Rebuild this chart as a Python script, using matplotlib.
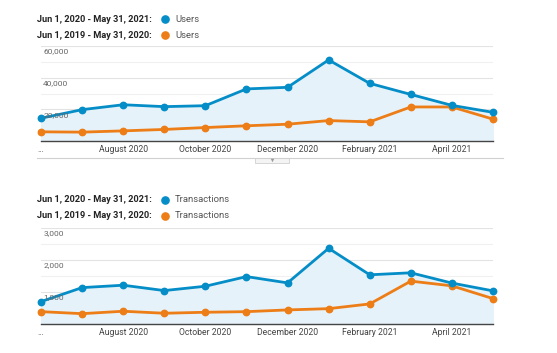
import matplotlib
matplotlib.use("Agg")
import matplotlib.pyplot as plt
from matplotlib.transforms import blended_transform_factory

plt.rcParams['font.family'] = ['Roboto', 'DejaVu Sans']

months = ["Jun", "Jul", "Aug", "Sep", "Oct", "Nov", "Dec", "Jan", "Feb", "Mar", "Apr", "May"]
x_tick_labels = ["...", "August 2020", "October 2020", "December 2020", "February 2021", "April 2021"]

users_2020 = [14400, 19800, 22900, 21700, 22300, 32900, 33900, 51200, 36400, 29400, 22500, 18100]
users_2019 = [5800, 5600, 6400, 7300, 8500, 9600, 10600, 12900, 12100, 21500, 21500, 13800]
users_yticks = [20000, 40000, 60000]
users_ytick_labels = ["20,000", "40,000", "60,000"]

trans_2020 = [686, 1124, 1199, 1031, 1167, 1469, 1272, 2355, 1525, 1588, 1266, 1022]
trans_2019 = [371, 308, 384, 321, 352, 371, 425, 465, 613, 1327, 1179, 780]
trans_yticks = [1000, 2000, 3000]
trans_ytick_labels = ["1,000", "2,000", "3,000"]

range_a = "Jun 1, 2020 - May 31, 2021:"
range_b = "Jun 1, 2019 - May 31, 2020:"

BLUE = "#058dc7"
ORANGE = "#ed7d16"
FILL = "#e5f2f9"

W, H = 557, 353
fig = plt.figure(figsize=(W / 100, H / 100), dpi=100)


def px_axes(x0, y0, x1, y1):
    return fig.add_axes([x0 / W, 1 - y1 / H, (x1 - x0) / W, (y1 - y0) / H])


def draw_panel(ax, cur, prev, ymax, step, yticks, ylabels, metric, legend_y):
    xs = list(range(len(months)))
    ax.set_xlim(0, len(months) - 1)
    ax.set_ylim(0, ymax)
    ax.fill_between(xs, cur, 0, color=FILL, zorder=1)
    for i in range(1, int(ymax / step) + 1):
        v = i * step
        ax.axhline(v, color="#e3e3e3" if v in yticks else "#f0f0f0", lw=0.8, zorder=0.5)
    ax.plot(xs, prev, color=ORANGE, lw=2.0, marker="o", ms=4.6, zorder=3, clip_on=False)
    ax.plot(xs, cur, color=BLUE, lw=2.0, marker="o", ms=4.6, zorder=4, clip_on=False)
    for s in ["top", "right", "left"]:
        ax.spines[s].set_visible(False)
    ax.spines["bottom"].set_color("#444444")
    ax.spines["bottom"].set_linewidth(1.0)
    ax.set_yticks([])
    ax.set_xticks(xs[::2])
    ax.set_xticklabels(x_tick_labels, fontsize=6.2, color="#444444")
    ax.tick_params(axis="x", length=0, pad=3)
    tr = blended_transform_factory(ax.transAxes, ax.transData)
    for v, lab in zip(yticks, ylabels):
        ax.text(0.005, v - step * 0.15, lab, transform=tr, fontsize=6.0, color="#666666",
                ha="left", va="top", zorder=5)
    # legend
    for k, (rng, col) in enumerate([(range_a, BLUE), (range_b, ORANGE)]):
        yy = legend_y + k * 16
        fig.text(37 / W, 1 - yy / H, rng, fontsize=6.6, fontweight="bold", color="#222222",
                 ha="left", va="center")
        fig.lines.append(plt.Line2D([165 / W], [1 - yy / H], marker="o", ms=5.2, color=col,
                                    transform=fig.transFigure))
        fig.text(175 / W, 1 - yy / H, metric, fontsize=6.8, color="#555555", ha="left", va="center")


ax1 = px_axes(41, 46, 493, 141)
draw_panel(ax1, users_2020, users_2019, 60000, 10000, users_yticks, users_ytick_labels, "Users", 19)

ax2 = px_axes(41, 227.7, 493, 323.5)
draw_panel(ax2, trans_2020, trans_2019, 3000, 500, trans_yticks, trans_ytick_labels, "Transactions", 200)

# separator with tab
fig.lines.append(plt.Line2D([37 / W, 503 / W], [1 - 158 / H, 1 - 158 / H], color="#d0d0d0", lw=0.8,
                            transform=fig.transFigure))
fig.patches.append(plt.Rectangle((255 / W, 1 - 163 / H), 34 / W, 5 / H, facecolor="#f4f4f4",
                                 edgecolor="#d0d0d0", lw=0.6, transform=fig.transFigure))
fig.lines.append(plt.Line2D([272 / W], [1 - 160.3 / H], marker="v", ms=2.5, color="#999999",
                            mec="none", transform=fig.transFigure))

fig.savefig("out.png", dpi=100)
